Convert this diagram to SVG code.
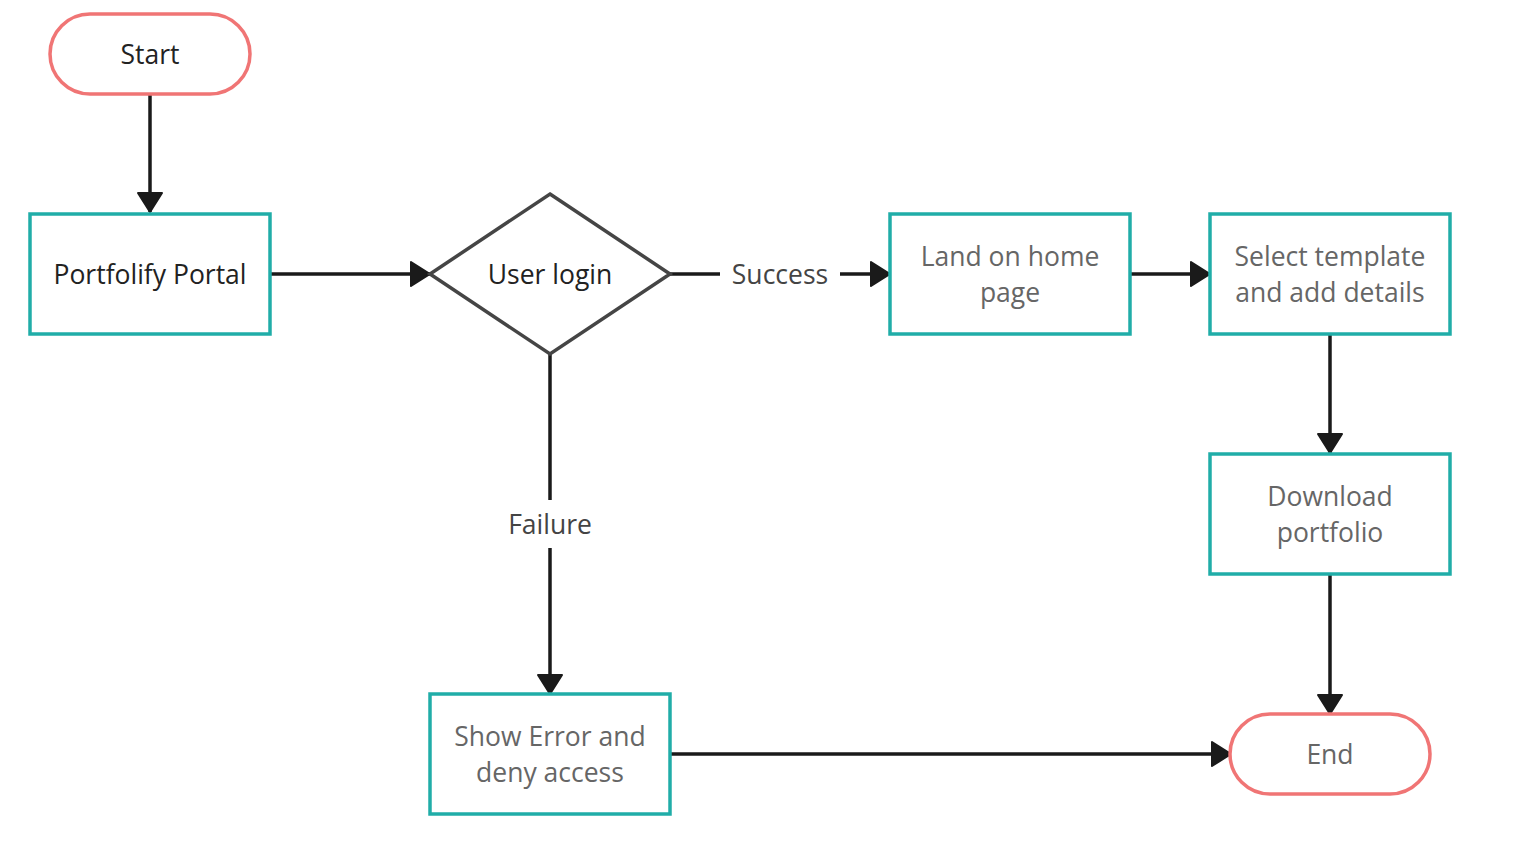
<svg xmlns="http://www.w3.org/2000/svg" width="1526" height="856" viewBox="0 0 1526 856">
<defs>
<marker id="arr" markerUnits="userSpaceOnUse" markerWidth="24" markerHeight="30" refX="21" refY="14" orient="auto">
<path d="M2,2 L21,14 L2,26 z" fill="#1a1a1a" stroke="#1a1a1a" stroke-width="2" stroke-linejoin="round"/>
</marker>
<style>
text{font-family:"Open Sans","Noto Sans",sans-serif;font-size:26.5px;text-anchor:middle;dominant-baseline:central}
.term{fill:#fff;stroke:#f07575;stroke-width:3.5}
.box{fill:#fff;stroke:#20ada8;stroke-width:3.5}
.dia{fill:#fff;stroke:#454545;stroke-width:3.5}
.dark{fill:#222}
.mid{fill:#444}
.grey{fill:#666}
.conn{fill:none;stroke:#1a1a1a;stroke-width:3.5}
</style>
</defs>
<rect width="1526" height="856" fill="#fff"/>
<g id="connectors">
<path class="conn" d="M150,94 V212" marker-end="url(#arr)"/>
<path class="conn" d="M270,274 H430" marker-end="url(#arr)"/>
<path class="conn" d="M670,274 H720"/>
<path class="conn" d="M840,274 H890" marker-end="url(#arr)"/>
<path class="conn" d="M1130,274 H1210" marker-end="url(#arr)"/>
<path class="conn" d="M1330,334 V453" marker-end="url(#arr)"/>
<path class="conn" d="M1330,574 V714" marker-end="url(#arr)"/>
<path class="conn" d="M550,354 V500"/>
<path class="conn" d="M550,548 V694" marker-end="url(#arr)"/>
<path class="conn" d="M670,754 H1231" marker-end="url(#arr)"/>
<text class="mid" x="780" y="274">Success</text>
<text class="mid" x="550" y="524">Failure</text>
</g>
<g id="start">
<rect class="term" x="50" y="14" width="200" height="80" rx="40"/>
<text class="dark" x="150" y="54">Start</text>
</g>
<g id="portal">
<rect class="box" x="30" y="214" width="240" height="120"/>
<text class="dark" x="150" y="274">Portfolify Portal</text>
</g>
<g id="login">
<polygon class="dia" points="550,194 670,274 550,354 430,274"/>
<text class="dark" x="550" y="274">User login</text>
</g>
<g id="home">
<rect class="box" x="890" y="214" width="240" height="120"/>
<text class="grey" x="1010" y="256">Land on home</text>
<text class="grey" x="1010" y="292">page</text>
</g>
<g id="template">
<rect class="box" x="1210" y="214" width="240" height="120"/>
<text class="grey" x="1330" y="256">Select template</text>
<text class="grey" x="1330" y="292">and add details</text>
</g>
<g id="download">
<rect class="box" x="1210" y="454" width="240" height="120"/>
<text class="grey" x="1330" y="496">Download</text>
<text class="grey" x="1330" y="532">portfolio</text>
</g>
<g id="error">
<rect class="box" x="430" y="694" width="240" height="120"/>
<text class="grey" x="550" y="736">Show Error and</text>
<text class="grey" x="550" y="772">deny access</text>
</g>
<g id="end">
<rect class="term" x="1230" y="714" width="200" height="80" rx="40"/>
<text class="grey" x="1330" y="754">End</text>
</g>
</svg>
